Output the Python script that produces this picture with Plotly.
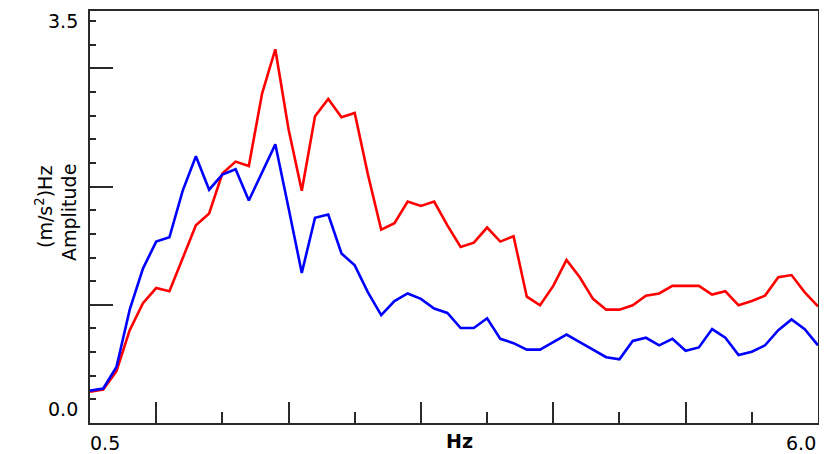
import plotly.graph_objects as go

freq = [0.5, 0.6, 0.7, 0.8, 0.9, 1.0, 1.1, 1.2, 1.3, 1.4, 1.5, 1.6, 1.7, 1.8, 1.9,
        2.0, 2.1, 2.2, 2.3, 2.4, 2.5, 2.6, 2.7, 2.8, 2.9, 3.0, 3.1, 3.2, 3.3, 3.4,
        3.5, 3.6, 3.7, 3.8, 3.9, 4.0, 4.1, 4.2, 4.3, 4.4, 4.5, 4.6, 4.7, 4.8, 4.9,
        5.0, 5.1, 5.2, 5.3, 5.4, 5.5, 5.6, 5.7, 5.8, 5.9, 6.0]

red = [0.07, 0.09, 0.26, 0.64, 0.89, 1.03, 1.00, 1.30, 1.61, 1.72, 2.09, 2.20, 2.16, 2.83, 3.24,
       2.50, 1.93, 2.62, 2.78, 2.61, 2.65, 2.08, 1.57, 1.63, 1.83, 1.79, 1.83, 1.61, 1.41, 1.45,
       1.59, 1.46, 1.51, 0.95, 0.87, 1.05, 1.29, 1.13, 0.93, 0.83, 0.83, 0.87, 0.96, 0.98, 1.05,
       1.05, 1.05, 0.97, 1.00, 0.87, 0.91, 0.96, 1.13, 1.15, 0.99, 0.86]

blue = [0.08, 0.10, 0.30, 0.83, 1.21, 1.46, 1.50, 1.93, 2.25, 1.94, 2.08, 2.13, 1.84, 2.10, 2.36,
        1.77, 1.17, 1.68, 1.71, 1.35, 1.24, 0.99, 0.78, 0.91, 0.98, 0.93, 0.84, 0.80, 0.66, 0.66,
        0.75, 0.56, 0.52, 0.46, 0.46, 0.53, 0.60, 0.53, 0.46, 0.39, 0.37, 0.54, 0.57, 0.50, 0.56,
        0.45, 0.48, 0.65, 0.57, 0.41, 0.44, 0.50, 0.64, 0.74, 0.65, 0.50]

x_short_ticks = [1.5, 2.5, 3.5, 4.5, 5.5]
x_long_ticks = [1.0, 2.0, 3.0, 4.0, 5.0]
y_step = 3.5 / 16
y_long_idx = [4, 9, 14]
y_short_ticks = [k * y_step for k in range(17) if k not in y_long_idx]
y_long_ticks = [k * y_step for k in y_long_idx]

FONT = "DejaVu Sans"
AX = "#2a2a2a"

fig = go.Figure()
fig.add_trace(go.Scatter(x=freq, y=red, mode="lines",
                         line=dict(color="#FF0000", width=2.6), showlegend=False))
fig.add_trace(go.Scatter(x=freq, y=blue, mode="lines",
                         line=dict(color="#0000FF", width=2.6), showlegend=False))

# page body has an 8px margin; margins account for it
fig.update_layout(
    width=819, height=446,
    margin=dict(l=82, r=9, t=1, b=31),
    paper_bgcolor="white", plot_bgcolor="white",
    font=dict(family=FONT, size=19, color="black"),
    xaxis=dict(range=[0.5, 6.0], showgrid=False, zeroline=False,
               showline=True, linecolor=AX, linewidth=2, mirror=True,
               ticks="inside", tickmode="array", tickvals=x_short_ticks,
               ticklen=11, tickwidth=2, tickcolor=AX, showticklabels=False,
               minor=dict(tickmode="array", tickvals=x_long_ticks, ticks="inside",
                          ticklen=21, tickwidth=2, tickcolor=AX, showgrid=False)),
    yaxis=dict(range=[-0.219, 3.594], showgrid=False, zeroline=False,
               showline=True, linecolor=AX, linewidth=2, mirror=True,
               ticks="inside", tickmode="array", tickvals=y_short_ticks,
               ticklen=6, tickwidth=2, tickcolor=AX, showticklabels=False,
               minor=dict(tickmode="array", tickvals=y_long_ticks, ticks="inside",
                          ticklen=23, tickwidth=2, tickcolor=AX, showgrid=False)),
)

ann = []
ann.append(dict(text="3.5", xref="paper", yref="y", x=0, y=3.5, xanchor="right",
                yanchor="middle", xshift=-10, showarrow=False))
ann.append(dict(text="0.0", xref="paper", yref="y", x=0, y=0, xanchor="right",
                yanchor="middle", xshift=-10, yshift=-10, showarrow=False))
ann.append(dict(text="0.5", xref="x", yref="paper", x=0.5, y=0, xanchor="left",
                yanchor="middle", xshift=-2, yshift=-20, showarrow=False))
ann.append(dict(text="6.0", xref="x", yref="paper", x=6.0, y=0, xanchor="right",
                yanchor="middle", yshift=-20, showarrow=False))
ann.append(dict(text="<b>Hz</b>", xref="x", yref="paper", x=3.29, y=0, xanchor="center",
                yanchor="middle", yshift=-18, showarrow=False))
ann.append(dict(text="(m/s<sup>2</sup>)Hz", xref="paper", yref="paper", x=0, y=0.5,
                xanchor="center", yanchor="middle", xshift=-46, yshift=10,
                textangle=-90, showarrow=False))
ann.append(dict(text="Amplitude", xref="paper", yref="paper", x=0, y=0.5,
                xanchor="center", yanchor="middle", xshift=-21, yshift=4,
                textangle=-90, showarrow=False))
fig.update_layout(annotations=ann)

fig.write_html("out.html")
